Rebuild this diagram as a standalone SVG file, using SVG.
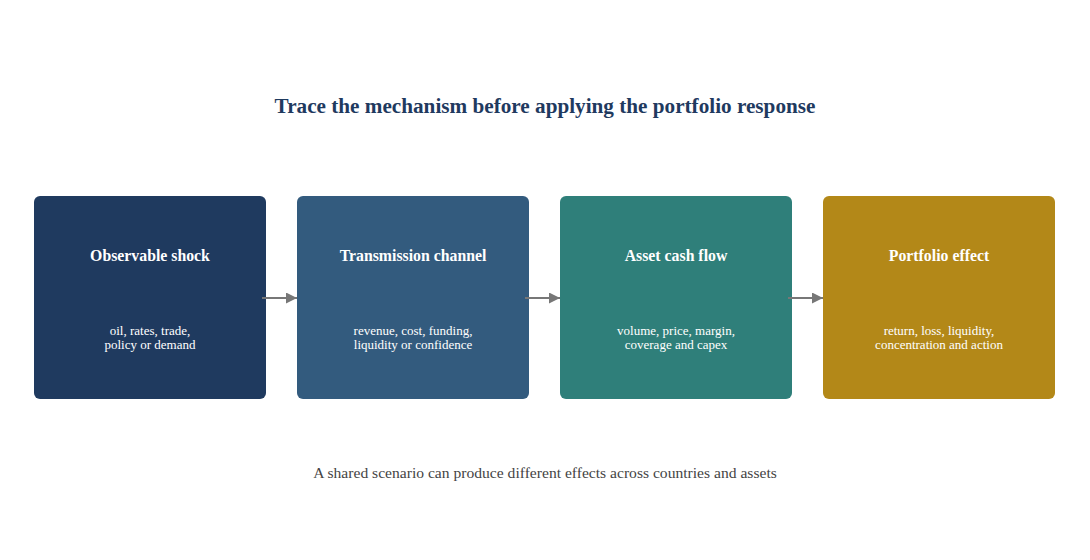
<svg xmlns="http://www.w3.org/2000/svg" width="1090" height="560" viewBox="0 0 1090 560">
<style>
text{font-family:"Liberation Serif","Times New Roman",serif;text-anchor:middle}
.title{font-size:21.2px;font-weight:bold;fill:#1f3a5f}
.h{font-size:15.8px;font-weight:bold;fill:#ffffff}
.s{font-size:13px;fill:#ffffff}
.foot{font-size:15.6px;fill:#444444}
.conn{stroke:#777777;stroke-width:2;fill:none;marker-end:url(#arr)}
</style>
<defs>
<marker id="arr" viewBox="0 0 10 10" refX="10" refY="5" markerWidth="5.5" markerHeight="5.5" orient="auto" markerUnits="strokeWidth">
<path d="M0,0 L10,5 L0,10 z" fill="#777777"/>
</marker>
</defs>
<rect width="1090" height="560" fill="#ffffff"/>
<text class="title" x="545" y="113">Trace the mechanism before applying the portfolio response</text>
<g id="node1">
<rect x="34" y="196" width="232" height="203" rx="6" fill="#1f3a5f"/>
<text class="h" x="150" y="261">Observable shock</text>
<text class="s" x="150" y="335">oil, rates, trade,</text>
<text class="s" x="150" y="349">policy or demand</text>
</g>
<g id="node2">
<rect x="297" y="196" width="232" height="203" rx="6" fill="#335b7e"/>
<text class="h" x="413" y="261">Transmission channel</text>
<text class="s" x="413" y="335">revenue, cost, funding,</text>
<text class="s" x="413" y="349">liquidity or confidence</text>
</g>
<g id="node3">
<rect x="560" y="196" width="232" height="203" rx="6" fill="#2f7f7a"/>
<text class="h" x="676" y="261">Asset cash flow</text>
<text class="s" x="676" y="335">volume, price, margin,</text>
<text class="s" x="676" y="349">coverage and capex</text>
</g>
<g id="node4">
<rect x="823" y="196" width="232" height="203" rx="6" fill="#b38818"/>
<text class="h" x="939" y="261">Portfolio effect</text>
<text class="s" x="939" y="335">return, loss, liquidity,</text>
<text class="s" x="939" y="349">concentration and action</text>
</g>
<g id="connectors">
<line class="conn" x1="262" y1="298" x2="297" y2="298"/>
<line class="conn" x1="525" y1="298" x2="560" y2="298"/>
<line class="conn" x1="788" y1="298" x2="823" y2="298"/>
</g>
<text class="foot" x="545" y="478">A shared scenario can produce different effects across countries and assets</text>
</svg>
